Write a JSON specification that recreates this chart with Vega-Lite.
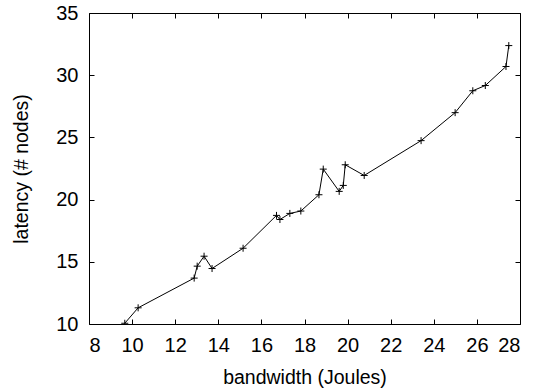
{
  "$schema": "https://vega.github.io/schema/vega-lite/v6.json",
  "width": 431,
  "height": 311,
  "autosize": {"type": "none"},
  "padding": {"left": 89, "top": 13, "right": 16, "bottom": 68},
  "background": "white",
  "config": {
    "view": {"stroke": "black", "strokeWidth": 1},
    "font": "Liberation Sans",
    "axis": {
      "grid": false,
      "domain": false,
      "tickColor": "black",
      "tickSize": -5,
      "labelFont": "Liberation Sans",
      "labelFontSize": 20,
      "labelColor": "black",
      "titleFont": "Liberation Sans",
      "titleFontSize": 19.5,
      "titleFontWeight": "normal",
      "titleColor": "black"
    }
  },
  "data": {
    "values": [
      {"bandwidth": 9.66, "latency": 10.06},
      {"bandwidth": 10.28, "latency": 11.3},
      {"bandwidth": 12.88, "latency": 13.69},
      {"bandwidth": 13.02, "latency": 14.65},
      {"bandwidth": 13.34, "latency": 15.45},
      {"bandwidth": 13.71, "latency": 14.46},
      {"bandwidth": 15.15, "latency": 16.09},
      {"bandwidth": 16.7, "latency": 18.73},
      {"bandwidth": 16.86, "latency": 18.4},
      {"bandwidth": 17.32, "latency": 18.89},
      {"bandwidth": 17.83, "latency": 19.08},
      {"bandwidth": 18.67, "latency": 20.39},
      {"bandwidth": 18.87, "latency": 22.45},
      {"bandwidth": 19.61, "latency": 20.66},
      {"bandwidth": 19.8, "latency": 21.14},
      {"bandwidth": 19.89, "latency": 22.8},
      {"bandwidth": 20.77, "latency": 21.94},
      {"bandwidth": 23.41, "latency": 24.74},
      {"bandwidth": 24.99, "latency": 26.99},
      {"bandwidth": 25.81, "latency": 28.75},
      {"bandwidth": 26.39, "latency": 29.17},
      {"bandwidth": 27.35, "latency": 30.7},
      {"bandwidth": 27.48, "latency": 32.38}
    ]
  },
  "layer": [
    {
      "mark": {"type": "line", "color": "black", "strokeWidth": 1, "clip": true},
      "encoding": {
        "x": {"field": "bandwidth", "type": "quantitative", "scale": {"domain": [8, 28], "nice": false, "zero": false},
              "axis": {"title": "bandwidth (Joules)", "values": [8,10,12,14,16,18,20,22,24,26,28], "labelPadding": 16, "titlePadding": 13}},
        "y": {"field": "latency", "type": "quantitative", "scale": {"domain": [10, 35], "nice": false, "zero": false},
              "axis": {"title": "latency (# nodes)", "values": [10,15,20,25,30,35], "labelPadding": 16, "titlePadding": 24}}
      }
    },
    {
      "mark": {"type": "point", "shape": "M-1,0H1M0,-1V1", "size": 49, "stroke": "black", "strokeWidth": 1, "filled": false, "opacity": 1, "clip": true},
      "encoding": {
        "x": {"field": "bandwidth", "type": "quantitative", "scale": {"domain": [8, 28], "nice": false, "zero": false},
              "axis": {"orient": "top", "labels": false, "title": null, "values": [8,10,12,14,16,18,20,22,24,26,28]}},
        "y": {"field": "latency", "type": "quantitative", "scale": {"domain": [10, 35], "nice": false, "zero": false},
              "axis": {"orient": "right", "labels": false, "title": null, "values": [10,15,20,25,30,35]}}
      }
    }
  ],
  "resolve": {"axis": {"x": "independent", "y": "independent"}}
}
